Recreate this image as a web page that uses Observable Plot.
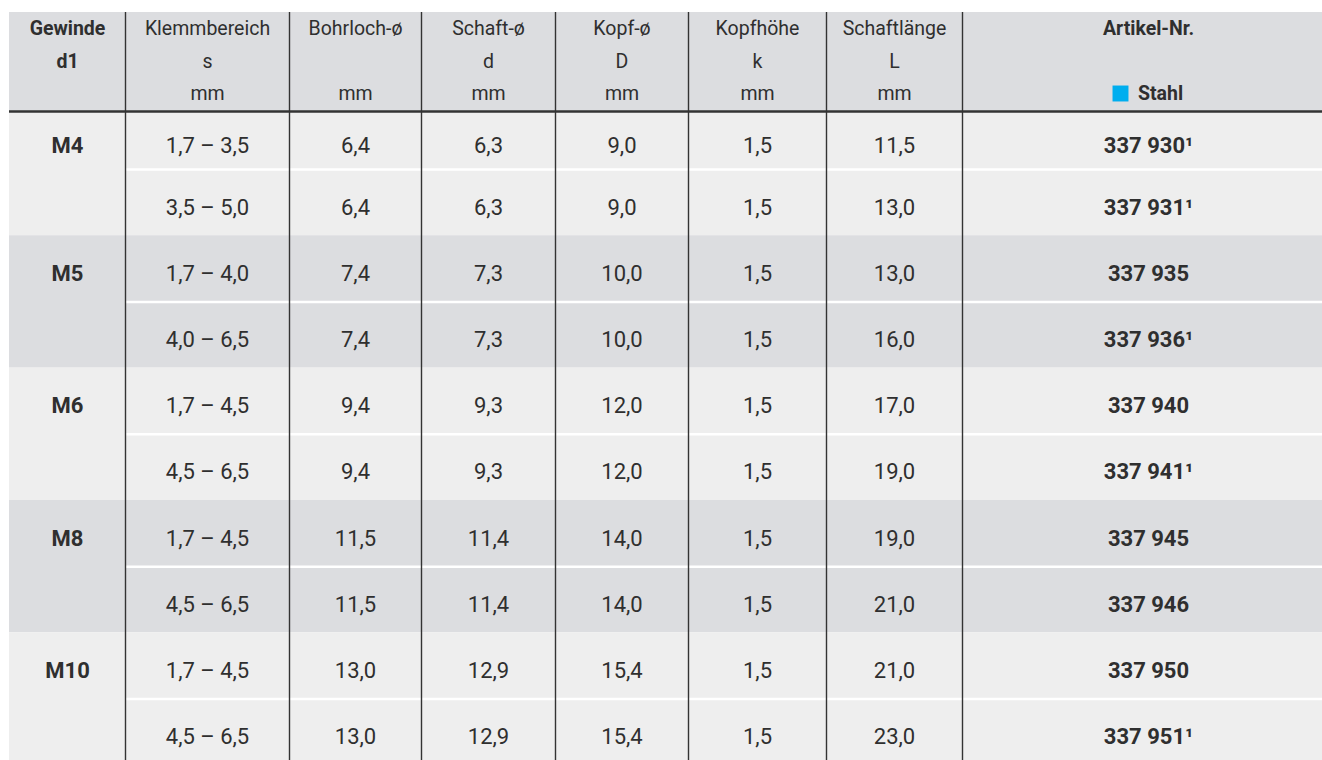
<!DOCTYPE html>
<html><head><meta charset="utf-8">
<script src="https://cdn.jsdelivr.net/npm/d3@7"></script>
<script src="https://cdn.jsdelivr.net/npm/@observablehq/plot@0.6"></script>
<style>
html,body{margin:0;padding:0;background:#fff;overflow:hidden;}
#chart svg{display:block;}
</style></head><body><div id="chart"></div>
<script>
// ---- data ----
const headerLine1 = ["Gewinde", "Klemmbereich", "Bohrloch-ø", "Schaft-ø", "Kopf-ø", "Kopfhöhe", "Schaftlänge", "Artikel-Nr."];
const headerLine2 = ["d1", "s", "", "d", "D", "k", "L", ""];
const headerLine3 = ["", "mm", "mm", "mm", "mm", "mm", "mm", "Stahl"];
const gewinde = ["M4", "M5", "M6", "M8", "M10"];
const klemmbereich = ["1,7 – 3,5", "3,5 – 5,0", "1,7 – 4,0", "4,0 – 6,5", "1,7 – 4,5", "4,5 – 6,5", "1,7 – 4,5", "4,5 – 6,5", "1,7 – 4,5", "4,5 – 6,5"];
const bohrloch = [6.4, 6.4, 7.4, 7.4, 9.4, 9.4, 11.5, 11.5, 13.0, 13.0];
const schaft = [6.3, 6.3, 7.3, 7.3, 9.3, 9.3, 11.4, 11.4, 12.9, 12.9];
const kopf = [9.0, 9.0, 10.0, 10.0, 12.0, 12.0, 14.0, 14.0, 15.4, 15.4];
const kopfhoehe = [1.5, 1.5, 1.5, 1.5, 1.5, 1.5, 1.5, 1.5, 1.5, 1.5];
const schaftlaenge = [11.5, 13.0, 13.0, 16.0, 17.0, 19.0, 19.0, 21.0, 21.0, 23.0];
const artikel = ["337 930", "337 931", "337 935", "337 936", "337 940", "337 941", "337 945", "337 946", "337 950", "337 951"];
const fussnote = [1, 1, 0, 1, 0, 1, 0, 0, 0, 1];

// ---- layout ----
const colWidths = [116, 164, 132, 134, 133, 138, 136, 372];
const headerH = 99, firstRowH = 58, rowH = 66.2;
const headerLineY = [16, 49, 81];
const colEdges = [0];
colWidths.forEach(w => colEdges.push(colEdges[colEdges.length - 1] + w));
const totalW = colEdges[colEdges.length - 1];
const colCenter = c => (colEdges[c] + colEdges[c + 1]) / 2;
const rowTop = i => headerH + (i === 0 ? 0 : firstRowH + (i - 1) * rowH);
const rowMid = i => (rowTop(i) + rowTop(i + 1)) / 2;
const nRows = klemmbereich.length;
const totalH = rowTop(nRows);
const fmt = v => d3.format(".1f")(v).replace(".", ",");

const light = "#eeeeee", dark = "#dcdde0", ink = "#2f2f2f";

const groups = gewinde.map((g, k) => ({x1: 0, x2: totalW, y1: rowTop(2 * k), y2: rowTop(2 * k + 2), fill: k % 2 ? dark : light}));
const separators = gewinde.map((g, k) => ({x1: colEdges[1], x2: totalW, y: rowTop(2 * k + 1)}));
const vlines = colEdges.slice(1, -1);

const bodyCols = [klemmbereich, bohrloch.map(fmt), schaft.map(fmt), kopf.map(fmt), kopfhoehe.map(fmt), schaftlaenge.map(fmt)];
const bodyCells = [];
for (let i = 0; i < nRows; i++) {
  bodyCols.forEach((col, j) => bodyCells.push({x: colCenter(j + 1), y: rowMid(i), text: col[i]}));
}
const artCells = artikel.map((a, i) => ({x: colCenter(7), y: rowMid(i), text: a + (fussnote[i] ? "¹" : "")}));
const gewCells = gewinde.map((g, k) => ({x: colCenter(0), y: rowMid(2 * k), text: g}));

const headerCells = [];
[headerLine1, headerLine2, headerLine3].forEach((line, li) => {
  line.forEach((t, c) => {
    if (!t) return;
    headerCells.push({x: colCenter(c), y: headerLineY[li], text: t, bold: c === 0 || c === 7, dx: (c === 7 && li === 2) ? 12 : 0});
  });
});
const headerRegular = headerCells.filter(d => !d.bold);
const headerBold = headerCells.filter(d => d.bold && d.dx === 0);
const headerBoldShift = headerCells.filter(d => d.bold && d.dx !== 0);
const stahlMarker = [{x: colCenter(7), y: headerLineY[2]}];

const plot = Plot.plot({
  width: 1322,
  height: 760,
  margin: 0,
  style: {fontFamily: "Roboto, 'Liberation Sans', sans-serif", background: "#fff"},
  x: {type: "linear", domain: [0, totalW], range: [9, 9 + totalW], axis: null},
  y: {type: "linear", domain: [0, totalH], range: [12, 12 + totalH], axis: null},
  marks: [
    Plot.rect([{x1: 0, x2: totalW, y1: 0, y2: headerH}], {x1: "x1", x2: "x2", y1: "y1", y2: "y2", fill: dark}),
    Plot.rect(groups, {x1: "x1", x2: "x2", y1: "y1", y2: "y2", fill: "fill"}),
    Plot.ruleY(separators, {x1: "x1", x2: "x2", y: "y", stroke: "#ffffff", strokeWidth: 2.5}),
    Plot.ruleX(vlines, {x: d => d, y1: 0, y2: totalH, stroke: "#333", strokeWidth: 1.4}),
    Plot.ruleY([headerH], {y: d => d, x1: 0, x2: totalW, stroke: "#333", strokeWidth: 2.5}),
    Plot.text(headerRegular, {x: "x", y: "y", text: "text", fontSize: 19.5, fill: ink}),
    Plot.text(headerBold, {x: "x", y: "y", text: "text", fontSize: 19.5, fontWeight: "bold", fill: ink}),
    Plot.text(headerBoldShift, {x: "x", y: "y", text: "text", dx: 12, fontSize: 19.5, fontWeight: "bold", fill: ink}),
    Plot.dot(stahlMarker, {x: "x", y: "y", dx: -28, symbol: "square", r: 9, fill: "#00aeef", stroke: null}),
    Plot.text(bodyCells, {x: "x", y: "y", text: "text", dy: 5, fontSize: 22, fill: ink}),
    Plot.text(artCells, {x: "x", y: "y", text: "text", dy: 5, fontSize: 22, fontWeight: "bold", fill: ink}),
    Plot.text(gewCells, {x: "x", y: "y", text: "text", dy: 5, fontSize: 22, fontWeight: "bold", fill: ink})
  ]
});
document.getElementById("chart").appendChild(plot);
</script></body></html>
